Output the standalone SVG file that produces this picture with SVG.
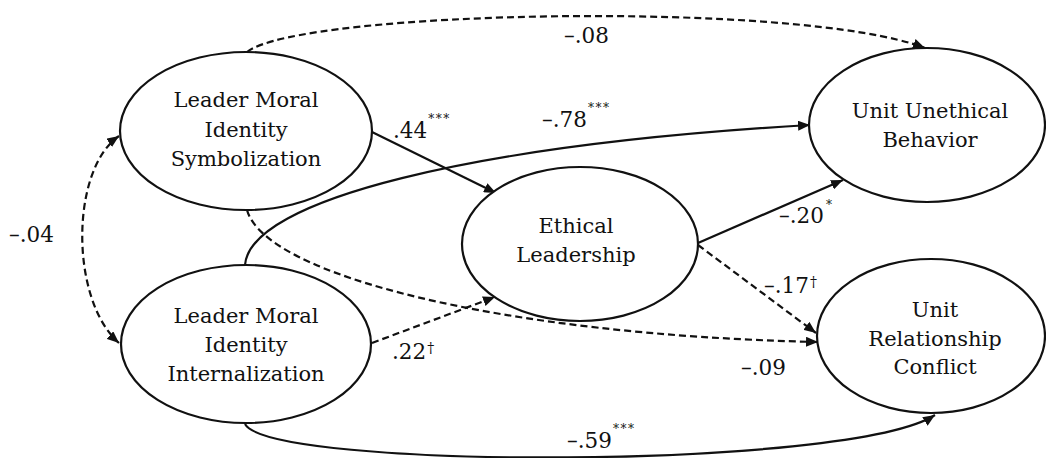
<svg xmlns="http://www.w3.org/2000/svg" width="1046" height="458" viewBox="0 0 1046 458">
<style>
  .node ellipse { fill: #fff; stroke: #111; stroke-width: 2.2; }
  .node text { font-family: "DejaVu Serif", "Liberation Serif", serif; font-size: 21px; fill: #111; text-anchor: middle; }
  .edge { fill: none; stroke: #111; stroke-width: 2.2; }
  .dash { stroke-dasharray: 7 4; }
  .lbl { font-family: "DejaVu Serif", "Liberation Serif", serif; font-size: 21.5px; fill: #111; }
  .sup { font-size: 12px; letter-spacing: 1.5px; }
  .dag { font-size: 14px; }
</style>
<defs>
  <marker id="ah" viewBox="0 0 12 10" refX="12" refY="5" markerWidth="12" markerHeight="10" markerUnits="userSpaceOnUse" orient="auto-start-reverse">
    <path d="M0,0 L12,5 L0,10 Z" fill="#111"/>
  </marker>
</defs>
<rect width="1046" height="458" fill="#fff"/>

<g id="connectors">
  <path class="edge dash" d="M247,52 C300,10 800,0 925,48" marker-end="url(#ah)"/>
  <path class="edge" d="M372,132 L496,193" marker-end="url(#ah)"/>
  <path class="edge" d="M245,265 C250,200 470,145 810,125" marker-end="url(#ah)"/>
  <path class="edge" d="M698,243 L843,180" marker-end="url(#ah)"/>
  <path class="edge dash" d="M698,245 L816,333" marker-end="url(#ah)"/>
  <path class="edge dash" d="M247,210 C265,275 500,335 818,342" marker-end="url(#ah)"/>
  <path class="edge dash" d="M372,343 L495,297" marker-end="url(#ah)"/>
  <path class="edge" d="M245,424 C270,470 850,470 935,415" marker-end="url(#ah)"/>
  <path class="edge dash" d="M119,136 C70,170 70,300 119,343" marker-start="url(#ah)" marker-end="url(#ah)"/>

  <text class="lbl" x="564" y="43">–.08</text>
  <text class="lbl" x="393" y="138">.44<tspan class="sup" dx="1" dy="-15">***</tspan></text>
  <text class="lbl" x="542" y="127">–.78<tspan class="sup" dx="1" dy="-15">***</tspan></text>
  <text class="lbl" x="779" y="223">–.20<tspan class="sup" dx="2" dy="-14">*</tspan></text>
  <text class="lbl" x="764" y="293">–.17<tspan class="dag" dx="1" dy="-6">†</tspan></text>
  <text class="lbl" x="741" y="375">–.09</text>
  <text class="lbl" x="392" y="359">.22<tspan class="dag" dx="1" dy="-6">†</tspan></text>
  <text class="lbl" x="567" y="448">–.59<tspan class="sup" dx="1" dy="-15">***</tspan></text>
  <text class="lbl" x="9" y="242">–.04</text>
</g>

<g id="n-symbolization" class="node">
  <ellipse cx="246" cy="131" rx="126" ry="79"/>
  <text x="246" y="107">Leader Moral</text>
  <text x="246" y="137">Identity</text>
  <text x="246" y="166">Symbolization</text>
</g>

<g id="n-internalization" class="node">
  <ellipse cx="246" cy="344" rx="125" ry="79"/>
  <text x="246" y="323">Leader Moral</text>
  <text x="246" y="352">Identity</text>
  <text x="246" y="381">Internalization</text>
</g>

<g id="n-ethical" class="node">
  <ellipse cx="580" cy="244" rx="118" ry="77"/>
  <text x="576" y="233">Ethical</text>
  <text x="576" y="262">Leadership</text>
</g>

<g id="n-unethical" class="node">
  <ellipse cx="927" cy="125" rx="118" ry="77"/>
  <text x="930" y="118">Unit Unethical</text>
  <text x="930" y="147">Behavior</text>
</g>

<g id="n-conflict" class="node">
  <ellipse cx="931" cy="336" rx="114" ry="77"/>
  <text x="935" y="317">Unit</text>
  <text x="935" y="346">Relationship</text>
  <text x="935" y="374">Conflict</text>
</g>
</svg>
